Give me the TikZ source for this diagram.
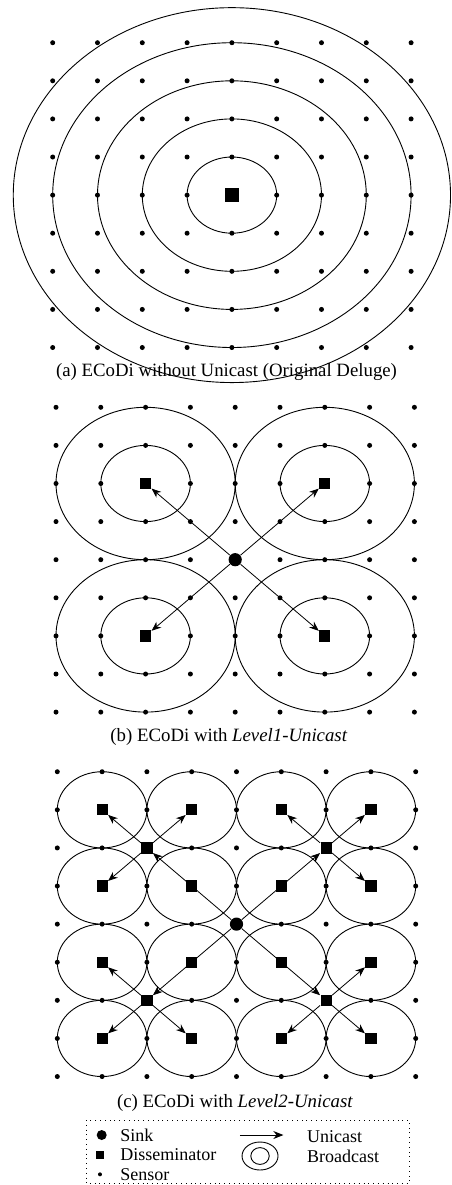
\documentclass[tikz,border=0pt]{standalone}
\usepackage{fontspec}
\setmainfont{Liberation Serif}
\usetikzlibrary{arrows.meta}

\begin{document}
\begin{tikzpicture}[x=22.4pt,y=19.05pt,
  sensor/.style={circle,fill,inner sep=0pt,minimum size=2.5pt},
  dsm/.style={rectangle,fill,inner sep=0pt,minimum size=5.6pt},
  sinknode/.style={circle,fill,inner sep=0pt,minimum size=6.6pt},
  ring/.style={line width=0.45pt},
  uni/.style={-{Stealth[length=4.8pt,width=3.8pt]},line width=0.4pt},
  capt/.style={font=\fontsize{9.4}{11}\selectfont,inner sep=0pt},
  lgd/.style={font=\fontsize{9}{10.5}\selectfont,inner sep=0pt,anchor=west}]
  \useasboundingbox (0,0) rectangle (10.067,-31.102);
  % (a) without unicast
  \begin{scope}[shift={(1.176,-1.121)}]
    \foreach \c in {0,...,8} \foreach \r in {0,...,8} {
      \pgfmathtruncatemacro\occ{\c==4 && \r==4}
      \ifnum\occ=0 \node[sensor] (as\c\r) at (\c,-\r) {}; \fi
    }
    \node[dsm,minimum size=7pt] (asink) at (4,-4) {};
    \foreach \k in {1,...,4} \draw[ring] (asink) circle[radius=\k];
    \draw[ring] (asink) circle[x radius=4.88,y radius=4.92];
  \end{scope}
  \node[capt] (capa) at (5.056,-9.756) {(a) ECoDi without Unicast (Original Deluge)};
  % (b) level1 unicast
  \begin{scope}[shift={(1.25,-10.690)}]
    \foreach \c in {0,...,8} \foreach \r in {0,...,8} {
      \pgfmathtruncatemacro\occ{(\c==4 && \r==4) || (mod(\c,4)==2 && mod(\r,4)==2)}
      \ifnum\occ=0 \node[sensor] (bs\c\r) at (\c,-\r) {}; \fi
    }
    \node[sinknode] (bsink) at (4,-4) {};
    \foreach \p/\q in {2/2,6/2,2/6,6/6} {
      \node[dsm] (bd\p\q) at (\p,-\q) {};
      \draw[ring] (bd\p\q) circle[radius=1] circle[radius=2];
      \draw[uni] (bsink) -- (bd\p\q);
    }
  \end{scope}
  \node[capt] (capb) at (5.11,-19.336) {(b) ECoDi with \textit{Level1-Unicast}};
  % (c) level2 unicast
  \begin{scope}[shift={(1.279,-20.255)}]
    \foreach \c in {0,...,8} \foreach \r in {0,...,8} {
      \pgfmathtruncatemacro\occ{(\c==4 && \r==4) || (mod(\c,2)==1 && mod(\r,2)==1) || (mod(\c,4)==2 && mod(\r,4)==2)}
      \ifnum\occ=0 \node[sensor] (cs\c\r) at (\c,-\r) {}; \fi
    }
    \node[sinknode] (csink) at (4,-4) {};
    \foreach \p in {1,3,5,7} \foreach \q in {1,3,5,7} {
      \node[dsm] (cd\p\q) at (\p,-\q) {};
      \draw[ring] (cd\p\q) circle[radius=1];
    }
    \foreach \p/\q in {2/2,6/2,2/6,6/6} {
      \node[dsm] (cd\p\q) at (\p,-\q) {};
      \draw[uni] (csink) -- (cd\p\q);
    }
    \foreach \f/\t in {22/11,22/31,22/13,62/51,62/71,62/73,26/15,26/17,26/37,66/75,66/57,66/77}
      \draw[uni] (cd\f) -- (cd\t);
  \end{scope}
  \node[capt] (capc) at (5.246,-28.94) {(c) ECoDi with \textit{Level2-Unicast}};
  % legend
  \draw[dotted,line width=0.4pt] (1.920,-29.396) rectangle (9.136,-31.058);
  \node[sinknode,minimum size=5pt] (lsink) at (2.270,-29.790) {};
  \node[dsm,minimum size=4pt] (ldsm) at (2.232,-30.315) {};
  \node[sensor,minimum size=2pt] (lsen) at (2.232,-30.822) {};
  \node[lgd] (tsink) at (2.679,-29.790) {Sink};
  \node[lgd] (tdsm) at (2.679,-30.315) {Disseminator};
  \node[lgd] (tsen) at (2.679,-30.822) {Sensor};
  \coordinate (lua) at (5.357,-29.790);
  \coordinate (lub) at (6.324,-29.790);
  \draw[-{Stealth[length=5pt,width=4pt]},line width=0.4pt] (lua) -- (lub);
  \coordinate (lbc) at (5.804,-30.341);
  \draw[ring] (lbc) circle[x radius=9pt,y radius=7pt] circle[x radius=4.6pt,y radius=4.2pt];
  \node[lgd] (tuni) at (6.846,-29.820) {Unicast};
  \node[lgd] (tbc) at (6.846,-30.341) {Broadcast};
\end{tikzpicture}
\end{document}
